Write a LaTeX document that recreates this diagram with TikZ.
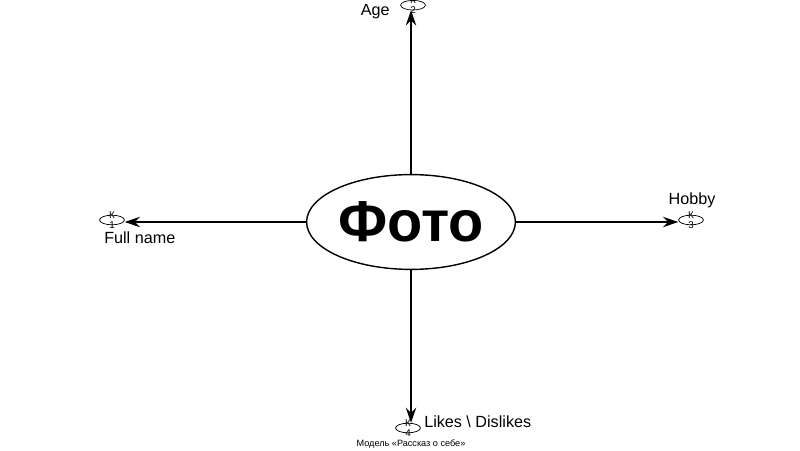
\documentclass[tikz,border=0pt]{standalone}
\usepackage{fontspec}
\setmainfont{Liberation Sans}
\usetikzlibrary{shapes.geometric,arrows.meta}
\tikzset{
  photo/.style={ellipse, draw=black, line width=1pt, minimum width=5.22cm, minimum height=2.37cm, inner sep=0pt, font=\fontsize{41}{44}\selectfont\bfseries},
  kmark/.style={ellipse, draw=black, line width=0.5pt, minimum width=0.62cm, minimum height=0.24cm, inner sep=0pt},
  ktext/.style={font=\fontsize{7}{6.8}\selectfont, inner sep=0pt, align=center},
  ray/.style={line width=1.4pt, -{Stealth[length=3.8mm, width=2.6mm, inset=1.3mm]}},
  caption/.style={font=\fontsize{11.5}{13}\selectfont, inner sep=0pt},
  footnote/.style={font=\fontsize{6.5}{8}\selectfont, inner sep=0pt},
}

\begin{document}
\begin{tikzpicture}
\useasboundingbox (0,0) rectangle (20.0,11.25);
\node[photo] (foto) at (10.275,5.7) {Фото};
\node[kmark, label={[ktext]center:К\\1}] (k1) at (2.8,5.75) {};
\node[kmark, label={[ktext]center:К\\2}] (k2) at (10.325,11.12) {};
\node[kmark, label={[ktext]center:К\\3}] (k3) at (17.275,5.75) {};
\node[kmark, label={[ktext]center:К\\4}] (k4) at (10.2,0.55) {};
\draw[ray] (foto.north) -- (foto.north |- k2.south);
\draw[ray] (foto.west) -- (foto.west -| k1.east);
\draw[ray] (foto.east) -- (foto.east -| k3.west);
\draw[ray] (foto.south) -- (foto.south |- k4.north);
\node[caption, anchor=east] (age) at (9.75,10.95) {Age};
\node[caption, anchor=west] (fullname) at (2.6,5.3) {Full name};
\node[caption] (hobby) at (17.3,6.25) {Hobby};
\node[caption, anchor=west] (likes) at (10.6,0.7) {Likes \textbackslash{} Dislikes};
\node[footnote] (model) at (10.275,0.15) {Модель «Рассказ о себе»};
\end{tikzpicture}
\end{document}
